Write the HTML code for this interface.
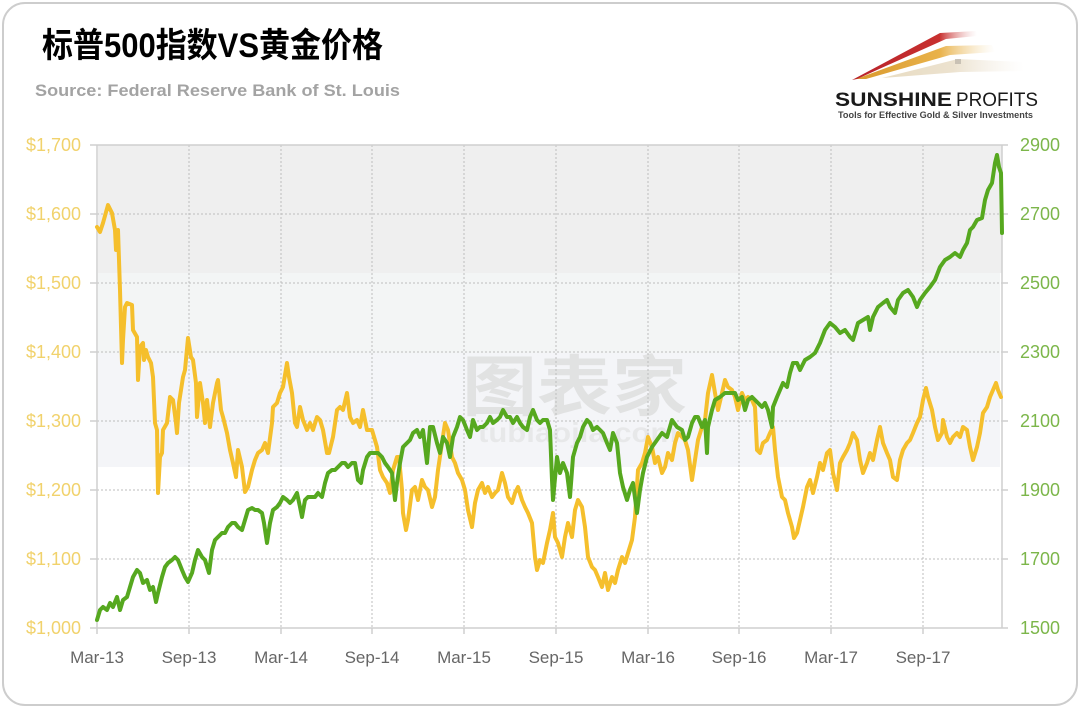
<!DOCTYPE html>
<html><head><meta charset="utf-8"><style>
html,body{margin:0;padding:0;background:#fff;}
svg{display:block;}
</style></head><body>
<svg width="1079" height="711" viewBox="0 0 1079 711" xmlns="http://www.w3.org/2000/svg">
<defs>
<linearGradient id="gr" x1="0" y1="0" x2="1" y2="0"><stop offset="0" stop-color="#b8232b"/><stop offset="0.7" stop-color="#c8302f"/><stop offset="1" stop-color="#e8b0b0" stop-opacity="0"/></linearGradient>
<linearGradient id="gg" x1="0" y1="0" x2="1" y2="0"><stop offset="0" stop-color="#d99a2e"/><stop offset="0.6" stop-color="#e9b24a"/><stop offset="1" stop-color="#f3dba8" stop-opacity="0"/></linearGradient>
<linearGradient id="gb" x1="0" y1="0" x2="1" y2="0"><stop offset="0" stop-color="#e8dcc2"/><stop offset="0.5" stop-color="#ece2cf"/><stop offset="1" stop-color="#f4efe6" stop-opacity="0"/></linearGradient>
</defs>
<rect x="3" y="3" width="1074" height="702" rx="22" ry="22" fill="#fff" stroke="#cdcdcd" stroke-width="2"/>

<!-- Title -->
<text x="42" y="57" font-family="Liberation Sans, 'Noto Sans CJK SC', sans-serif" font-weight="bold" font-size="34" fill="#000" textLength="341" lengthAdjust="spacingAndGlyphs">标普500指数VS黄金价格</text>
<text x="35" y="96" font-family="Liberation Sans, sans-serif" font-weight="bold" font-size="17" fill="#a3a3a3" textLength="365" lengthAdjust="spacingAndGlyphs">Source: Federal Reserve Bank of St. Louis</text>

<!-- Logo -->
<polygon points="882,78 958,59 1022,62 1024,71 960,72" fill="url(#gb)"/>
<polygon points="856,79 946,46 992,45 995,52 950,55 866,79" fill="url(#gg)"/>
<polygon points="852,80 940,33 976,31 977,36 946,39 857,79" fill="url(#gr)"/>
<rect x="955" y="59" width="6" height="5" fill="#b9b2a6" opacity="0.7"/>
<text x="835" y="106" font-family="Liberation Sans, sans-serif" font-weight="bold" font-size="19" fill="#1a1a1a" textLength="117" lengthAdjust="spacingAndGlyphs">SUNSHINE</text>
<text x="956" y="106" font-family="Liberation Sans, sans-serif" font-size="19" fill="#1a1a1a" textLength="82" lengthAdjust="spacingAndGlyphs">PROFITS</text>
<text x="838" y="118" font-family="Liberation Sans, sans-serif" font-weight="bold" font-size="9" fill="#444" textLength="195" lengthAdjust="spacingAndGlyphs">Tools for Effective Gold &amp; Silver Investments</text>

<!-- Plot backgrounds -->
<rect x="98" y="145" width="904" height="128" fill="#efefef"/>
<rect x="98" y="273" width="902" height="80" fill="#f3f5f5"/>
<rect x="98" y="353" width="902" height="114" fill="#f4f5f8"/>

<!-- Watermark -->
<text x="462" y="410" font-family="Liberation Sans, 'Noto Sans CJK SC', sans-serif" font-weight="bold" font-size="66" fill="#dadada" opacity="0.7" textLength="225" lengthAdjust="spacingAndGlyphs">图表家</text>
<text x="478" y="442" font-family="Liberation Sans, sans-serif" font-weight="bold" font-size="28" fill="#dcdcdc" opacity="0.5" textLength="200" lengthAdjust="spacingAndGlyphs">tubiaojia.com</text>

<!-- Grid -->
<g stroke="#bdbdbd" stroke-width="1" stroke-dasharray="2,2" fill="none">
<line x1="97" y1="214" x2="1002" y2="214"/>
<line x1="97" y1="283" x2="1002" y2="283"/>
<line x1="97" y1="352" x2="1002" y2="352"/>
<line x1="97" y1="421" x2="1002" y2="421"/>
<line x1="97" y1="490" x2="1002" y2="490"/>
<line x1="97" y1="559" x2="1002" y2="559"/>
<line x1="189" y1="145" x2="189" y2="628"/>
<line x1="281" y1="145" x2="281" y2="628"/>
<line x1="372" y1="145" x2="372" y2="628"/>
<line x1="464" y1="145" x2="464" y2="628"/>
<line x1="556" y1="145" x2="556" y2="628"/>
<line x1="648" y1="145" x2="648" y2="628"/>
<line x1="739" y1="145" x2="739" y2="628"/>
<line x1="831" y1="145" x2="831" y2="628"/>
<line x1="923" y1="145" x2="923" y2="628"/>
</g>
<g stroke="#cfcfcf" stroke-width="1.5" fill="none">
<line x1="90" y1="145" x2="1008" y2="145"/>
<line x1="90" y1="628" x2="1008" y2="628"/>
<line x1="97" y1="145" x2="97" y2="634"/>
<line x1="1002" y1="145" x2="1002" y2="628"/>
<line x1="90" y1="214" x2="97" y2="214"/><line x1="90" y1="283" x2="97" y2="283"/><line x1="90" y1="352" x2="97" y2="352"/><line x1="90" y1="421" x2="97" y2="421"/><line x1="90" y1="490" x2="97" y2="490"/><line x1="90" y1="559" x2="97" y2="559"/>
<line x1="1002" y1="214" x2="1008" y2="214"/><line x1="1002" y1="283" x2="1008" y2="283"/><line x1="1002" y1="352" x2="1008" y2="352"/><line x1="1002" y1="421" x2="1008" y2="421"/><line x1="1002" y1="490" x2="1008" y2="490"/><line x1="1002" y1="559" x2="1008" y2="559"/>
<line x1="189" y1="628" x2="189" y2="634"/><line x1="281" y1="628" x2="281" y2="634"/><line x1="372" y1="628" x2="372" y2="634"/><line x1="464" y1="628" x2="464" y2="634"/><line x1="556" y1="628" x2="556" y2="634"/><line x1="648" y1="628" x2="648" y2="634"/><line x1="739" y1="628" x2="739" y2="634"/><line x1="831" y1="628" x2="831" y2="634"/><line x1="923" y1="628" x2="923" y2="634"/>
</g>

<!-- Left axis labels -->
<g font-family="Liberation Sans, sans-serif" font-size="18" fill="#f1d26c" text-anchor="end">
<text x="81" y="151">$1,700</text>
<text x="81" y="220">$1,600</text>
<text x="81" y="289">$1,500</text>
<text x="81" y="358">$1,400</text>
<text x="81" y="427">$1,300</text>
<text x="81" y="496">$1,200</text>
<text x="81" y="565">$1,100</text>
<text x="81" y="634">$1,000</text>
</g>
<!-- Right axis labels -->
<g font-family="Liberation Sans, sans-serif" font-size="18" fill="#7cb64a">
<text x="1020" y="151">2900</text>
<text x="1020" y="220">2700</text>
<text x="1020" y="289">2500</text>
<text x="1020" y="358">2300</text>
<text x="1020" y="427">2100</text>
<text x="1020" y="496">1900</text>
<text x="1020" y="565">1700</text>
<text x="1020" y="634">1500</text>
</g>
<!-- X labels -->
<g font-family="Liberation Sans, sans-serif" font-size="17" fill="#666" text-anchor="middle">
<text x="97" y="663">Mar-13</text>
<text x="189" y="663">Sep-13</text>
<text x="281" y="663">Mar-14</text>
<text x="372" y="663">Sep-14</text>
<text x="464" y="663">Mar-15</text>
<text x="556" y="663">Sep-15</text>
<text x="648" y="663">Mar-16</text>
<text x="739" y="663">Sep-16</text>
<text x="831" y="663">Mar-17</text>
<text x="923" y="663">Sep-17</text>
</g>

<!-- Gold -->
<polyline fill="none" stroke="#f5bf2c" stroke-width="4" stroke-linejoin="round" stroke-linecap="round" points="97,227 100,232 103,223 108,205 112,213 115,230 116,250 118,230 120,290 122,363 123,340 125,307 127,303 132,305 133,330 137,337 138,380 140,347 143,343 144,360 146,350 148,357 151,363 153,377 155,423 157,430 158,493 160,457 162,453 163,430 167,423 170,397 173,400 176,423 177,433 179,403 183,377 185,370 188,338 191,357 193,360 196,383 197,417 200,383 203,403 205,423 207,400 210,427 213,403 217,383 218,380 221,410 223,417 227,433 230,450 233,463 236,477 238,450 242,467 245,492 248,487 252,470 255,460 258,453 262,450 265,443 268,453 272,423 273,407 277,403 280,393 283,387 287,363 289,377 292,393 295,423 297,427 300,407 303,420 307,430 310,423 313,430 317,417 320,420 323,430 327,453 329,453 333,437 337,410 340,407 343,410 347,393 350,417 353,423 357,420 360,427 363,410 367,430 372,430 377,447 380,470 383,477 387,483 390,493 393,470 397,457 399,457 402,490 403,513 406,530 408,520 412,490 415,487 418,500 422,480 425,487 428,490 432,507 435,497 438,470 442,443 445,423 448,430 452,457 455,463 458,473 462,480 465,490 468,510 472,527 475,503 478,490 482,483 485,493 488,487 492,497 495,493 498,490 502,473 505,483 508,497 512,503 515,493 518,487 522,500 525,507 528,513 532,523 535,557 537,570 540,560 543,563 547,543 550,530 553,513 555,537 558,543 562,557 565,537 568,523 572,537 575,510 578,500 582,507 585,527 588,557 592,567 595,570 598,577 602,587 605,573 608,590 612,577 615,583 618,570 622,557 625,563 628,553 632,540 635,517 638,470 642,463 645,453 648,437 652,447 655,463 658,457 662,473 665,467 668,453 672,460 675,443 678,433 682,437 685,440 688,450 692,480 695,460 698,440 702,427 705,420 708,393 712,375 715,393 718,410 722,393 725,380 728,387 732,390 735,397 738,410 742,393 745,400 748,397 752,400 755,407 757,450 760,453 763,443 767,440 770,433 773,427 775,450 778,477 782,497 785,500 788,513 792,527 794,538 797,533 800,520 803,507 807,487 810,480 813,493 817,477 820,463 823,470 827,453 830,450 833,473 837,490 840,463 843,457 847,450 850,443 853,433 857,440 860,460 863,473 867,463 870,453 873,460 877,440 880,427 883,443 887,453 890,460 893,477 897,480 900,460 903,450 907,443 910,440 913,433 917,423 920,417 923,400 926,388 928,397 932,410 935,427 938,440 942,433 943,420 947,437 950,443 953,437 957,433 960,437 963,427 967,430 970,447 973,460 977,447 980,433 983,413 987,407 990,397 993,390 996,383 998,390 1001,397"/>

<!-- S&P 500 -->
<polyline fill="none" stroke="#56a81f" stroke-width="4" stroke-linejoin="round" stroke-linecap="round" points="97,620 100,610 103,607 107,610 110,603 113,607 117,597 120,610 123,600 127,597 130,587 133,577 137,570 140,573 143,583 147,580 150,590 153,587 156,602 158,593 162,577 165,567 168,563 172,560 175,557 178,560 182,570 185,577 188,582 192,573 195,560 198,550 202,557 205,560 209,573 212,550 215,540 218,537 222,533 225,533 228,527 232,523 235,523 238,527 242,530 245,520 248,510 252,508 255,510 258,510 262,513 264,523 267,543 270,523 273,510 277,507 280,503 283,497 287,500 290,503 293,500 297,493 300,507 302,517 305,500 308,497 312,497 315,497 318,493 322,497 325,483 328,473 332,470 335,470 338,467 342,463 345,463 348,467 352,463 355,463 358,480 361,483 363,470 367,457 370,453 373,453 378,453 382,457 385,463 388,467 392,473 395,500 397,483 400,463 403,447 407,443 410,440 413,433 417,430 420,437 423,430 427,463 430,427 433,427 437,443 440,453 443,437 447,443 450,457 453,437 457,427 460,417 463,420 467,430 470,437 473,420 477,430 480,427 483,427 487,423 490,417 493,423 497,420 500,417 503,410 507,417 510,417 513,423 517,417 520,423 523,427 527,430 530,417 533,410 537,420 540,423 543,420 547,420 550,430 552,480 553,500 557,457 560,473 563,463 567,473 570,497 573,457 577,443 580,437 583,427 587,420 590,423 593,430 597,427 600,430 603,433 607,443 610,450 613,433 617,443 620,473 623,487 627,500 630,490 633,483 637,513 640,490 643,473 647,457 652,447 657,440 662,433 667,437 672,420 677,427 682,430 685,440 688,437 692,423 695,417 698,417 702,427 705,420 707,453 708,427 712,410 715,400 720,397 725,393 730,393 735,393 738,400 742,397 745,410 748,400 752,397 755,400 758,403 762,407 765,403 768,410 772,427 773,407 777,397 780,390 783,383 787,387 790,373 793,363 797,363 800,370 805,360 810,357 815,353 820,343 825,330 830,323 835,327 840,333 845,330 850,337 853,340 858,323 863,320 868,317 870,330 873,317 878,307 883,303 887,300 890,307 895,313 898,300 903,293 908,290 913,297 917,307 920,300 925,293 930,287 935,280 940,267 945,260 950,257 955,253 960,257 963,250 967,243 970,230 973,227 977,220 982,218 985,200 988,190 992,183 995,163 997,155 999,167 1001,173 1002,233"/>
</svg>
</body></html>
